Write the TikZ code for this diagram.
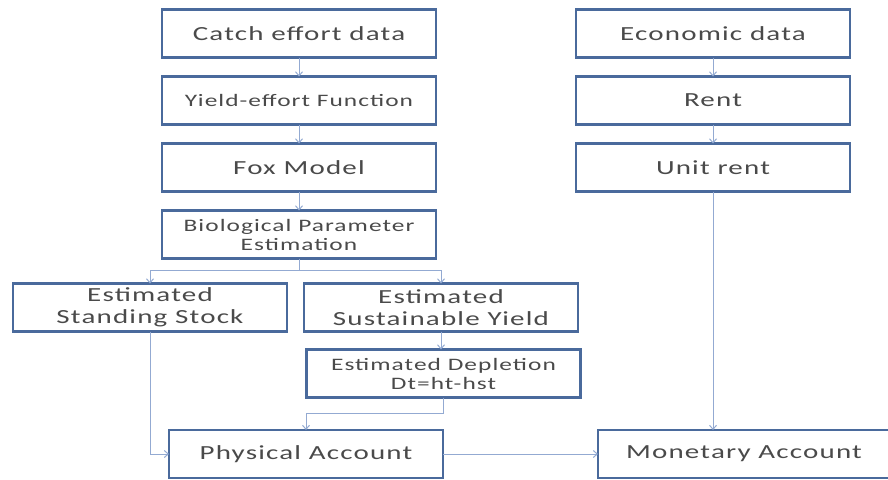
\documentclass[tikz,border=0pt]{standalone}
\usepackage{fontspec}
\setsansfont{Carlito}[FakeStretch=1.45, LetterSpace=6]
\usepackage{xcolor}
\usepackage{tikz}
\usetikzlibrary{positioning,arrows.meta}
\definecolor{boxblue}{HTML}{4A6A9C}
\definecolor{linkblue}{HTML}{93AAD2}
\definecolor{textgray}{HTML}{4A4A4A}

\begin{document}
\begin{tikzpicture}[x=1pt, y=1pt, font=\sffamily\fontsize{20}{22}\selectfont,
	stage/.style={draw=boxblue, line width=2.7pt, minimum width=274pt, minimum height=48pt, text=textgray, align=center, inner sep=0pt, outer sep=0pt},
	small/.style={font=\sffamily\fontsize{17.5}{19}\selectfont},
	link/.style={draw=linkblue, line width=1pt, -{Straight Barb[length=4pt,width=7pt]}},
	node distance=19pt]
		\useasboundingbox (0,0) rectangle (888,-479);
		\clip (0,0) rectangle (888,-479);
		% biological side
		\node[stage] (catch) at (299,-33.5) {Catch effort data};
		\node[stage, small, below=of catch] (yield) {Yield-effort Function};
		\node[stage, below=of yield] (fox) {Fox Model};
		\node[stage, small, below=of fox] (bio) {Biological Parameter\\Estimation};
		\node[stage] (stock) at (150,-307.5) {Estimated\\Standing Stock};
		\node[stage] (sust) at (441,-307.5) {Estimated\\Sustainable Yield};
		\node[stage, small, below=18pt of sust, xshift=2.5pt] (depl) {Estimated Depletion\\Dt=ht-hst};
		\node[stage] (phys) at (306,-454) {Physical Account};
		% economic side
		\node[stage] (econ) at (713,-33.5) {Economic data};
		\node[stage, below=of econ] (rent) {Rent};
		\node[stage, below=of rent] (unit) {Unit rent};
		\node[stage, minimum width=292pt] (money) at (744,-454) {Monetary Account};
		% links
		\draw[link] (catch) -- (yield);
		\draw[link] (yield) -- (fox);
		\draw[link] (fox) -- (bio);
		\draw[linkblue, line width=1pt] (bio.south) -- ++(0,-12) coordinate (split);
		\draw[link] (split) -| (stock.north);
		\draw[link] (split) -| (sust.north);
		\draw[link] (sust.south) -- (sust.south |- depl.north);
		\draw[link] (depl.south) -- ++(0,-16) -| (phys.north);
		\draw[link] (stock.south) |- (phys.west);
		\draw[link] (phys) -- (money);
		\draw[link] (econ) -- (rent);
		\draw[link] (rent) -- (unit);
		\draw[link] (unit.south) -- (unit.south |- money.north);
	\end{tikzpicture}
\end{document}
